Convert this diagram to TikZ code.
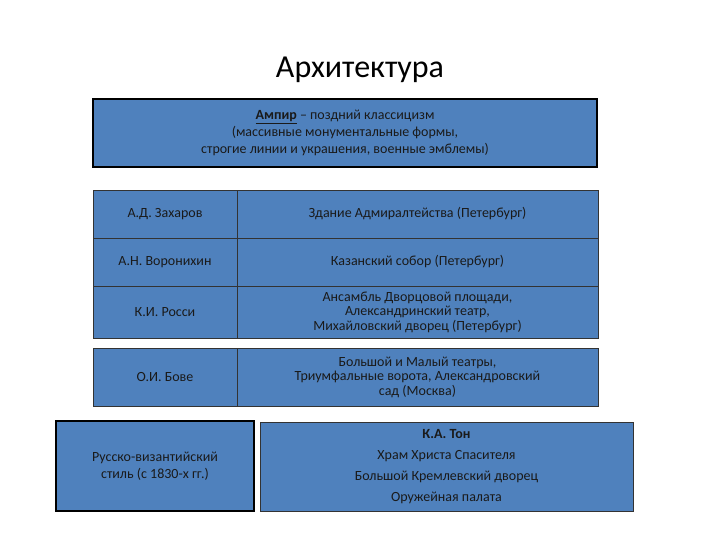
\documentclass[tikz,border=0pt]{standalone}
\usepackage{fontspec}
\setmainfont{Carlito}
\definecolor{cb}{HTML}{4F81BD}
\definecolor{tx}{HTML}{1A1A1A}
\begin{document}
\begin{tikzpicture}[x=1pt,y=-1pt,
  cell/.style={draw=black!80,line width=0.8pt,fill=cb,inner sep=0pt,text=tx,align=center,font=\fontsize{14}{14.5}\selectfont},
  thick box/.style={draw=black,line width=2.5pt,fill=cb,align=center,text=tx,font=\fontsize{14}{17}\selectfont}]
\useasboundingbox[fill=white] (0,0) rectangle (720,540);
\node[font=\fontsize{32}{36}\selectfont] (title) at (360,70) {Архитектура};
\node[thick box,minimum width=504,minimum height=68] (amp) at (345,133)
 {\underline{\textbf{Ампир}} – поздний классицизм\\(массивные монументальные формы,\\строгие линии и украшения, военные эмблемы)};
% table 1
\node[cell,minimum width=144,minimum height=48] (a1) at (165,214) {А.Д. Захаров};
\node[cell,minimum width=361,minimum height=48] (b1) at (417.5,214) {Здание Адмиралтейства (Петербург)};
\node[cell,minimum width=144,minimum height=48] (a2) at (165,262) {А.Н. Воронихин};
\node[cell,minimum width=361,minimum height=48] (b2) at (417.5,262) {Казанский собор (Петербург)};
% table 2
\node[cell,minimum width=144,minimum height=52] (a3) at (165,312) {К.И. Росси};
\node[cell,minimum width=361,minimum height=52] (b3) at (417.5,312) {Ансамбль Дворцовой площади,\\Александринский театр,\\Михайловский дворец (Петербург)};
% table 3
\node[cell,minimum width=144,minimum height=58] (a4) at (165,377) {О.И. Бове};
\node[cell,minimum width=361,minimum height=58] (b4) at (417.5,377) {Большой и Малый театры,\\Триумфальные ворота, Александровский\\сад (Москва)};
% bottom
\node[thick box,minimum width=198,minimum height=90] (rv) at (155,466) {Русско-византийский\\стиль (с 1830-х гг.)};
\node[cell,font=\fontsize{14}{21}\selectfont,minimum width=373,minimum height=89] (ton) at (446.5,466.5)
 {\textbf{К.А. Тон}\\Храм Христа Спасителя\\Большой Кремлевский дворец\\Оружейная палата};
\end{tikzpicture}
\end{document}
